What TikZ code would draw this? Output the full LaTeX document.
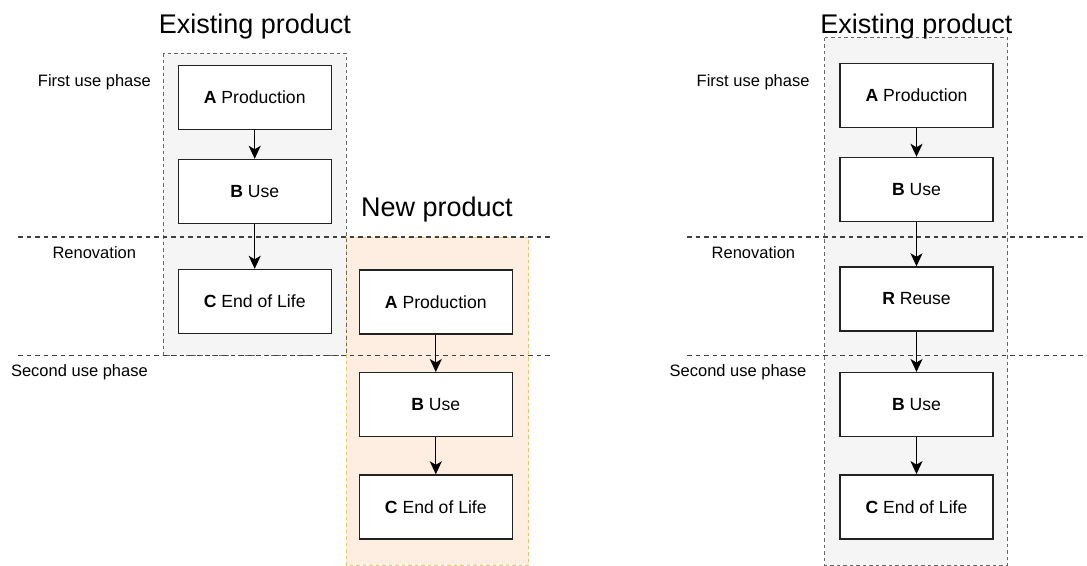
\documentclass[tikz,border=0pt]{standalone}
\usepackage{fontspec}
\setmainfont{Liberation Sans}
\usetikzlibrary{arrows.meta}

\definecolor{laneGray}{HTML}{F5F5F5}
\definecolor{laneGrayLine}{HTML}{666666}
\definecolor{laneOrange}{HTML}{FDEEE1}
\definecolor{laneOrangeLine}{HTML}{EBC46A}
\definecolor{boxLine}{HTML}{222222}

\tikzset{
  stagebox/.style={draw=boxLine, line width=1.4pt, fill=white,
    minimum width=153pt, minimum height=64pt, inner sep=0pt,
    font=\fontsize{17.6}{20}\selectfont},
  flow/.style={draw=black, line width=1.3pt, -{Stealth[length=13pt,width=12pt,inset=3.5pt]}},
  phaseline/.style={draw=black!75, line width=1.1pt, dash pattern=on 4.5pt off 4pt},
  grayLane/.style={fill=laneGray, draw=laneGrayLine, line width=0.8pt, dash pattern=on 3.5pt off 3pt},
  orangeLane/.style={fill=laneOrange, draw=laneOrangeLine, line width=0.8pt, dash pattern=on 3.5pt off 3pt},
  lanetitle/.style={font=\fontsize{27}{30}\selectfont, inner sep=0pt, anchor=base},
  phaselabel/.style={font=\fontsize{16.5}{18}\selectfont, inner sep=0pt, anchor=base}
}

\begin{document}
\begin{tikzpicture}[x=1pt, y=-1pt]
\useasboundingbox (0,0) rectangle (1087,565);

% ---------- left: existing product followed by a new product ----------
\fill[grayLane] (163,53) rectangle (346,355);
\draw[orangeLane] (346,237) rectangle (528.5,565);
\draw[grayLane, fill=none] (163,53) rectangle (346,355);

\draw[phaseline] (18,237) -- (552,237);
\draw[phaseline] (18,355.7) -- (552,355.7);

\node[lanetitle] (t1) at (255,33.5) {Existing product};
\node[lanetitle] (t2) at (437,216) {New product};

\node[phaselabel, anchor=base east] (p1) at (151,86) {First use phase};
\node[phaselabel] (p2) at (94.3,258) {Renovation};
\node[phaselabel] (p3) at (79.4,376.5) {Second use phase};

\node[stagebox] (A1) at (254.7,97.5) {\textbf{A} Production};
\node[stagebox] (B1) at (254.7,191.5) {\textbf{B} Use};
\node[stagebox] (C1) at (254.7,301.5) {\textbf{C} End of Life};

\node[stagebox] (A2) at (435.8,302) {\textbf{A} Production};
\node[stagebox] (B2) at (435.8,404.7) {\textbf{B} Use};
\node[stagebox] (C2) at (435.8,507) {\textbf{C} End of Life};

\draw[flow] (A1) -- (B1);
\draw[flow] (B1) -- (C1);
\draw[flow] (A2) -- (B2);
\draw[flow] (B2) -- (C2);

% ---------- right: existing product reused ----------
\draw[grayLane] (824.7,37.7) rectangle (1007.7,565);

\draw[phaseline] (687,237) -- (1087,237);
\draw[phaseline] (687,355.3) -- (1087,355.3);

\node[lanetitle] (t3) at (916.4,33) {Existing product};

\node[phaselabel, anchor=base east] (q1) at (809.7,86) {First use phase};
\node[phaselabel] (q2) at (753.4,258) {Renovation};
\node[phaselabel] (q3) at (738,376.5) {Second use phase};

\node[stagebox] (A3) at (916.5,95.2) {\textbf{A} Production};
\node[stagebox] (B3) at (916.5,189.5) {\textbf{B} Use};
\node[stagebox] (R3) at (916.5,299) {\textbf{R} Reuse};
\node[stagebox] (B4) at (916.5,404.7) {\textbf{B} Use};
\node[stagebox] (C4) at (916.5,506.8) {\textbf{C} End of Life};

\draw[flow] (A3) -- (B3);
\draw[flow] (B3) -- (R3);
\draw[flow] (R3) -- (B4);
\draw[flow] (B4) -- (C4);
\end{tikzpicture}
\end{document}
